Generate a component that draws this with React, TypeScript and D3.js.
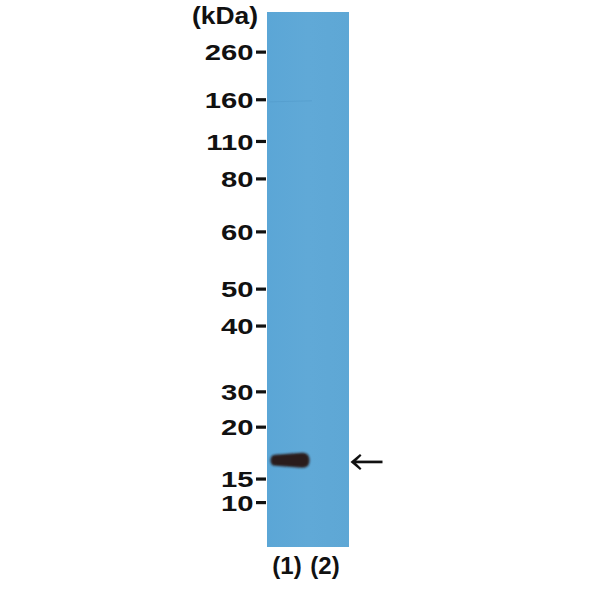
import * as d3 from "d3";

// marker ladder (kDa) and relative mobility on the membrane (0 = top, 1 = bottom)
const MARKERS = ["260", "160", "110", "80", "60", "50", "40", "30", "20", "15", "10"];
const MARKER_RF = [0.075, 0.164, 0.242, 0.312, 0.411, 0.518, 0.587, 0.71, 0.776, 0.873, 0.917];

const LANES = ["(1)", "(2)"];
// detected bands: lane, mobility, signal (0..1)
const BAND_LANES = ["(1)"];
const BAND_RF = [0.838];
const BAND_SIGNAL = [1];

const ARROW_RF = 0.841;

export default function App() {
  const W = 600, H = 600;
  const blot = { x0: 267, x1: 349, y0: 12, y1: 547 };

  const y = d3.scaleLinear().domain([0, 1]).range([blot.y0, blot.y1]);
  const x = d3.scaleBand<string>().domain(LANES).range([blot.x0 + 1, blot.x1 - 5]);

  const font = "'Liberation Sans', Arial, sans-serif";

  // band shape: slightly tapered on the left, rounded ends
  const bandPath = (cx: number, cy: number, w: number) => {
    const hl = 5.5, hr = 7.5;
    const l = cx - w / 2, r = cx + w / 2;
    const p = d3.path();
    p.moveTo(l + 5, cy - hl);
    p.lineTo(r - 7, cy - hr);
    p.quadraticCurveTo(r, cy - hr, r, cy);
    p.quadraticCurveTo(r, cy + hr, r - 7, cy + hr);
    p.lineTo(l + 5, cy + hl);
    p.quadraticCurveTo(l, cy + hl, l, cy);
    p.quadraticCurveTo(l, cy - hl, l + 5, cy - hl);
    p.closePath();
    return p.toString();
  };

  const ay = y(ARROW_RF);

  return (
    <svg width={W} height={H} viewBox={`0 0 ${W} ${H}`}
      style={{ position: "absolute", left: 0, top: 0, background: "#fff" }}>
      <defs>
        <filter id="soft" x="-20%" y="-50%" width="140%" height="200%">
          <feGaussianBlur stdDeviation="1.1" />
        </filter>
        <linearGradient id="mem" x1="0" y1="0" x2="1" y2="0">
          <stop offset="0%" stopColor="#5ba6d6" />
          <stop offset="50%" stopColor="#60a9d7" />
          <stop offset="100%" stopColor="#5ea7d5" />
        </linearGradient>
      </defs>

      {/* membrane */}
      <rect x={blot.x0} y={blot.y0} width={blot.x1 - blot.x0} height={blot.y1 - blot.y0} fill="url(#mem)" />
      <line x1={blot.x0 + 2} x2={blot.x0 + 45} y1={y(0.168)} y2={y(0.166)}
        stroke="#4f97c6" strokeWidth={0.8} opacity={0.6} />

      {/* bands */}
      {BAND_LANES.map((ln, i) => (
        <path key={ln + i}
          d={bandPath(x(ln)! + x.bandwidth() / 2 + 3, y(BAND_RF[i]), 39)}
          fill="#2b1d1b" opacity={BAND_SIGNAL[i]} filter="url(#soft)" />
      ))}

      {/* marker ladder */}
      <text transform="translate(258,23.5) scale(1.1,1)" textAnchor="end"
        fontFamily={font} fontWeight="bold" fontSize={24} fill="#111">(kDa)</text>
      {MARKERS.map((m, i) => (
        <g key={m}>
          <line x1={256} x2={266} y1={y(MARKER_RF[i])} y2={y(MARKER_RF[i])} stroke="#111" strokeWidth={3.2} />
          <text transform={`translate(253.5,${y(MARKER_RF[i])}) scale(1.3,1)`} dy="0.36em" textAnchor="end"
            fontFamily={font} fontWeight="bold" fontSize={22.5} fill="#111">{m}</text>
        </g>
      ))}

      {/* lane labels */}
      {LANES.map((ln) => (
        <text key={ln} x={x(ln)! + x.bandwidth() / 2} y={574} textAnchor="middle"
          fontFamily={font} fontWeight="bold" fontSize={24} fill="#111">{ln}</text>
      ))}

      {/* arrow */}
      <line x1={355} x2={382.5} y1={ay} y2={ay} stroke="#111" strokeWidth={2.7} />
      <path d={`M350.5,${ay} L360,${ay - 8} L361.5,${ay - 6.5} L355,${ay} L361.5,${ay + 6.5} L360,${ay + 8} Z`} fill="#111" />
    </svg>
  );
}
